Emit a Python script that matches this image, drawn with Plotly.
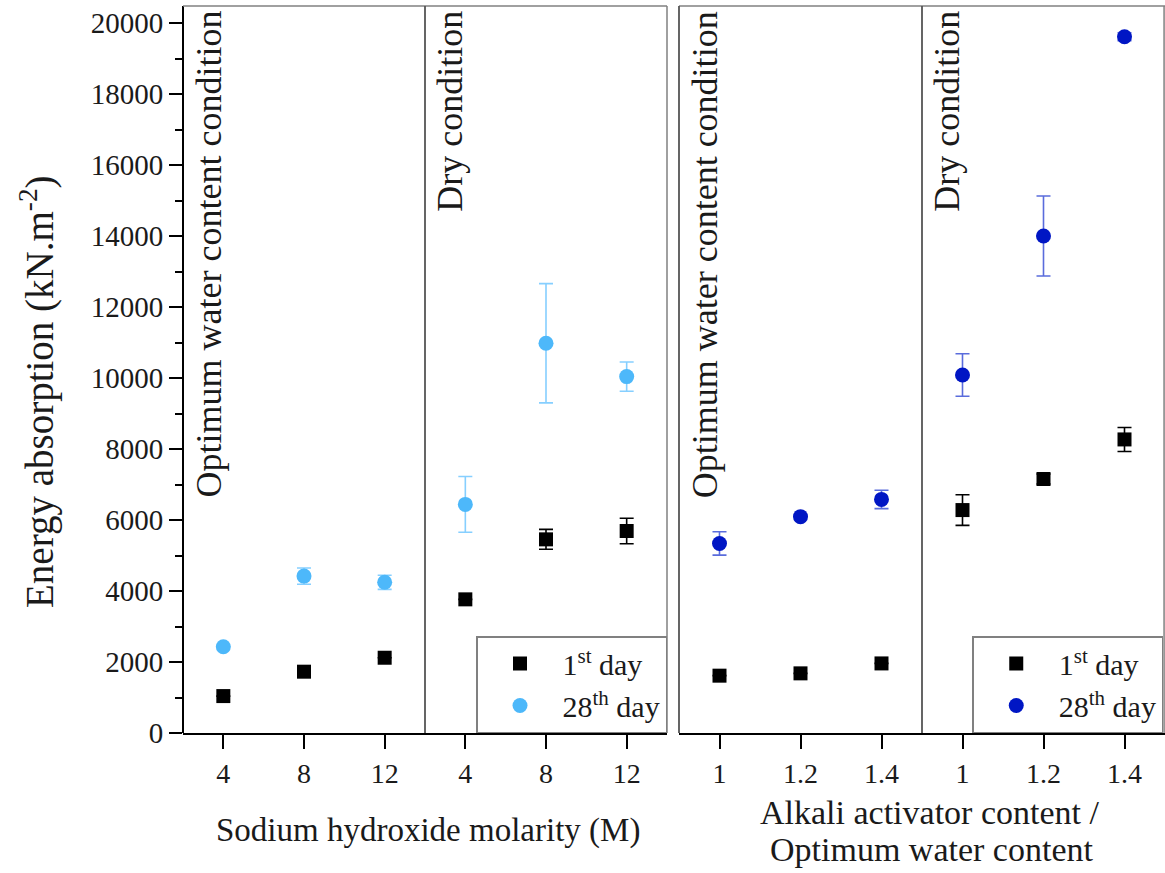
import plotly.graph_objects as go

# ---- data ----
left_ticks = ["4", "8", "12", "4", "8", "12"]
right_ticks = ["1", "1.2", "1.4", "1", "1.2", "1.4"]
positions = [0, 1, 2, 3, 4, 5]

left_day1 = [1040, 1727, 2120, 3765, 5455, 5690]
left_day1_err = [0, 0, 0, 0, 280, 360]
left_day28 = [2430, 4420, 4245, 6440, 10980, 10040]
left_day28_err = [0, 230, 200, 785, 1680, 413]

right_day1 = [1615, 1680, 1960, 6280, 7155, 8270]
right_day1_err = [0, 0, 0, 432, 140, 338]
right_day28 = [5340, 6095, 6580, 10085, 14000, 19615]
right_day28_err = [330, 0, 260, 600, 1127, 110]

FONT = "Liberation Serif, Times New Roman, serif"
BLACK = "#000000"
TXT = "#1a1a1a"
LIGHT = "#4DB8FA"
LIGHT_ERR = "#86CFFF"
DARK = "#0016C4"
DARK_ERR = "#5A6CDC"
GRAY = "#808080"

fig = go.Figure()

def add(x, y, err, color, ecolor, symbol, size, name, xa, legend):
    fig.add_trace(go.Scatter(
        x=x, y=y, mode="markers", name=name, xaxis=xa, yaxis="y", legend=legend,
        marker=dict(symbol=symbol, size=size, color=color, line=dict(width=0)),
        error_y=dict(type="data", array=err, visible=True, color=ecolor,
                     thickness=1.6, width=7),
    ))

add(positions, left_day1, left_day1_err, BLACK, BLACK, "square", 14, "1<sup>st</sup> day", "x", "legend")
add(positions, left_day28, left_day28_err, LIGHT, LIGHT_ERR, "circle", 15, "28<sup>th</sup> day", "x", "legend")
add(positions, right_day1, right_day1_err, BLACK, BLACK, "square", 14, "1<sup>st</sup> day", "x2", "legend2")
add(positions, right_day28, right_day28_err, DARK, DARK_ERR, "circle", 15, "28<sup>th</sup> day", "x2", "legend2")

W, H = 1165, 873
L_dom = [183 / W, 667 / W]
R_dom = [679 / W, 1.0]

tickfont = dict(family=FONT, size=28, color=TXT)
xcommon = dict(range=[-0.5, 5.5], tickvals=positions, ticks="outside", ticklen=14,
               tickwidth=2, tickcolor=BLACK, showline=True, linecolor=BLACK,
               linewidth=2, showgrid=False, zeroline=False, tickfont=tickfont)

legend_common = dict(y=0, xanchor="right", yanchor="bottom",
                     bgcolor="white", bordercolor=GRAY, borderwidth=1.5,
                     font=dict(family=FONT, size=30, color=TXT),
                     itemwidth=75, tracegroupgap=0)

fig.update_layout(
    width=W, height=H,
    margin=dict(l=0, r=0, t=6, b=H - 733),
    paper_bgcolor="white", plot_bgcolor="white",
    font=dict(family=FONT, color=TXT),
    xaxis=dict(domain=L_dom, ticktext=left_ticks, anchor="y", **xcommon),
    xaxis2=dict(domain=R_dom, ticktext=right_ticks, anchor="y", **xcommon),
    yaxis=dict(range=[0, 20480], tickvals=list(range(0, 20001, 2000)), tickformat="d",
               ticks="outside", ticklen=13, tickwidth=2, tickcolor=BLACK,
               showline=True, linecolor=BLACK, linewidth=2, showgrid=False,
               zeroline=False, tickfont=dict(family=FONT, size=29, color=TXT),
               minor=dict(tickvals=list(range(1000, 20000, 2000)), ticks="outside",
                          ticklen=7, tickwidth=2, tickcolor=BLACK),
               anchor="free", position=L_dom[0]),
    showlegend=True,
    legend=dict(x=L_dom[1], **legend_common),
    legend2=dict(x=0.9985, **legend_common),
)

# panel frame lines (top/right in gray) and dividers
shapes = []
for xa, dom in (("x", L_dom), ("x2", R_dom)):
    shapes.append(dict(type="line", xref="paper", yref="paper", x0=dom[0], x1=dom[1],
                       y0=1, y1=1, line=dict(color=GRAY, width=1.5)))
    shapes.append(dict(type="line", xref="paper", yref="paper", x0=min(dom[1], 0.9992),
                       x1=min(dom[1], 0.9992), y0=0, y1=1, line=dict(color=GRAY, width=1.5)))
    shapes.append(dict(type="line", xref=xa, yref="paper", x0=2.5, x1=2.5,
                       y0=0, y1=1, line=dict(color="#555", width=1.8)))
shapes.append(dict(type="line", xref="paper", yref="paper", x0=R_dom[0], x1=R_dom[0],
                   y0=0, y1=1, line=dict(color="#555", width=1.8)))
fig.update_layout(shapes=shapes)

ann_font = dict(family=FONT, size=36, color=TXT)
anns = []
for xa, xo, xd in (("x", -0.45, 2.54), ("x2", -0.44, 2.54)):
    anns.append(dict(text="Optimum water content condition", xref=xa, yref="paper",
                     x=xo, y=0.996, xanchor="left", yanchor="top", textangle=-90,
                     showarrow=False, font=ann_font))
    anns.append(dict(text="Dry condition", xref=xa, yref="paper",
                     x=xd, y=0.996, xanchor="left", yanchor="top", textangle=-90,
                     showarrow=False, font=ann_font))

title_font = dict(family=FONT, size=33, color=TXT)
PH = 727
anns.append(dict(text="Sodium hydroxide molarity (M)", xref="paper", yref="paper",
                 x=428 / W, y=-(830 - 733) / PH, xanchor="center", yanchor="middle",
                 showarrow=False, font=title_font))
anns.append(dict(text="Alkali activator content /", xref="paper", yref="paper",
                 x=929 / W, y=-(812 - 733) / PH, xanchor="center", yanchor="middle",
                 showarrow=False, font=dict(family=FONT, size=34, color=TXT)))
anns.append(dict(text="Optimum water content", xref="paper", yref="paper",
                 x=931 / W, y=-(849 - 733) / PH, xanchor="center", yanchor="middle",
                 showarrow=False, font=dict(family=FONT, size=34, color=TXT)))
anns.append(dict(text="Energy absorption (kN.m<sup>-2</sup>)", xref="paper", yref="paper",
                 x=37 / W, y=(733 - 392) / PH, xanchor="center", yanchor="middle",
                 textangle=-90, showarrow=False, font=dict(family=FONT, size=39, color=TXT)))
fig.update_layout(annotations=anns)

fig.write_html("out.html", config={"displayModeBar": False})

# remove default page margins so the figure sits at the window origin
with open("out.html", encoding="utf-8") as f:
    html = f.read()
html = html.replace("<head>", "<head><style>html,body{margin:0;padding:0;overflow:hidden}</style>", 1)
with open("out.html", "w", encoding="utf-8") as f:
    f.write(html)
